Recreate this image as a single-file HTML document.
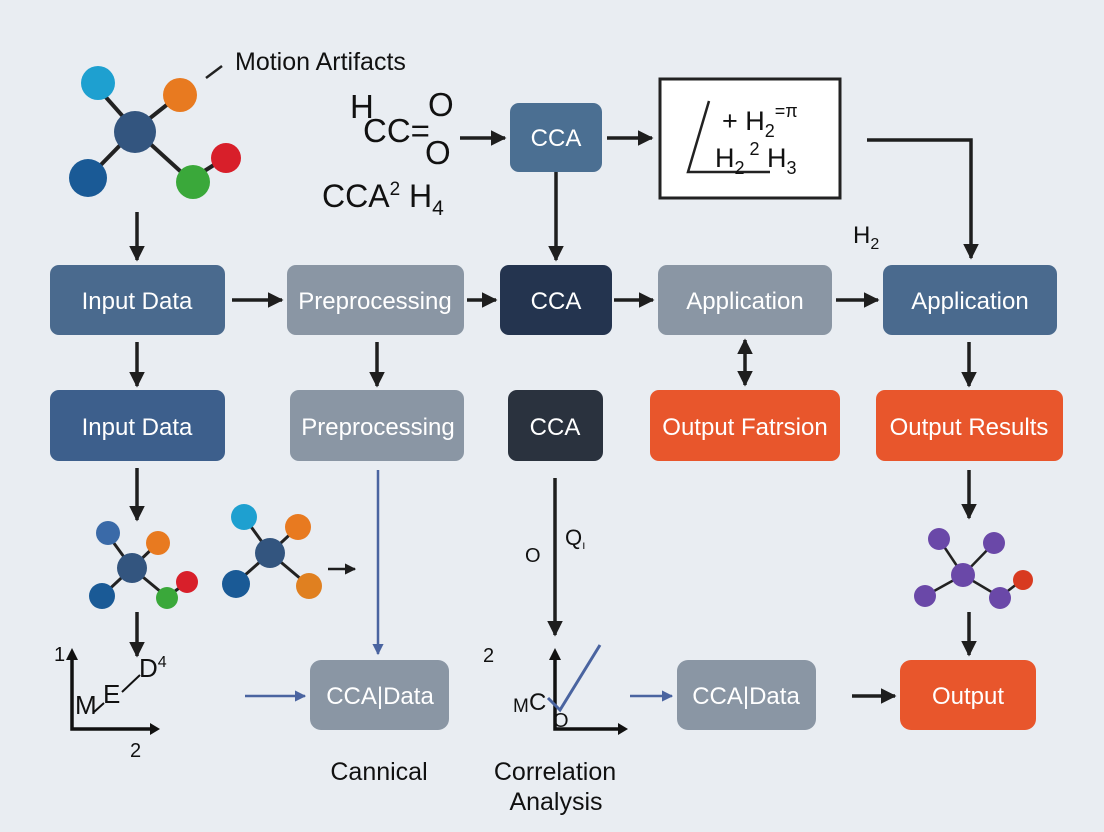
<!DOCTYPE html>
<html><head><meta charset="utf-8"><style>
html,body{margin:0;padding:0;background:#e9edf2;}
svg{display:block;font-family:"Liberation Sans",sans-serif;}
</style></head><body>
<svg width="1104" height="832" viewBox="0 0 1104 832" xmlns="http://www.w3.org/2000/svg">
<defs>
<marker id="a" viewBox="0 0 10 10" refX="9" refY="5" markerWidth="4.5" markerHeight="4.5" orient="auto-start-reverse"><path d="M0,0L10,5L0,10z" fill="#1e1e1e"/></marker>
<marker id="b" viewBox="0 0 10 10" refX="9" refY="5" markerWidth="4.5" markerHeight="4.5" orient="auto"><path d="M0,0L10,5L0,10z" fill="#4a64a0"/></marker>
</defs>
<rect width="1104" height="832" fill="#e9edf2"/>

<g stroke="#222" stroke-width="4">
<line x1="95" y1="85" x2="135" y2="130"/><line x1="178" y1="96" x2="135" y2="130"/>
<line x1="88" y1="178" x2="135" y2="130"/><line x1="190" y1="180" x2="135" y2="130"/><line x1="190" y1="180" x2="225" y2="158"/>
</g>
<circle cx="98" cy="83" r="17" fill="#1ea0d0"/><circle cx="180" cy="95" r="17" fill="#e87a20"/>
<circle cx="135" cy="132" r="21" fill="#33557f"/><circle cx="88" cy="178" r="19" fill="#1a5a96"/>
<circle cx="193" cy="182" r="17" fill="#3aa83a"/><circle cx="226" cy="158" r="15" fill="#d81f2a"/>
<line x1="206" y1="78" x2="222" y2="66" stroke="#222" stroke-width="2.5"/>
<text x="235" y="70" font-size="25" fill="#111">Motion Artifacts</text>

<text x="350" y="118" font-size="33" fill="#111">H</text>
<text x="363" y="142" font-size="33" fill="#111">CC=</text>
<text x="428" y="116" font-size="33" fill="#111">O</text>
<text x="425" y="164" font-size="33" fill="#111">O</text>
<text x="322" y="207" font-size="32" fill="#111">CCA<tspan font-size="19" dy="-12">2</tspan><tspan dy="12"> H</tspan><tspan font-size="21" dy="8">4</tspan></text>
<line x1="460" y1="138" x2="505" y2="138" stroke="#1e1e1e" stroke-width="3.5" marker-end="url(#a)"/>

<rect x="510" y="103" width="92" height="69" rx="9" fill="#4b6f92"/>
<text x="556" y="146" font-size="24" fill="#fff" text-anchor="middle">CCA</text>
<line x1="607" y1="138" x2="652" y2="138" stroke="#1e1e1e" stroke-width="3.5" marker-end="url(#a)"/>
<line x1="556" y1="172" x2="556" y2="260" stroke="#1e1e1e" stroke-width="3.5" marker-end="url(#a)"/>

<rect x="660" y="79" width="180" height="119" fill="#fff" stroke="#222" stroke-width="3"/>
<polyline points="709,101 688,172 770,172" fill="none" stroke="#222" stroke-width="2.5"/>
<text x="722" y="130" font-size="27" fill="#111">+ H<tspan font-size="18" dy="7">2</tspan><tspan font-size="18" dy="-20">=π</tspan></text>
<text x="715" y="167" font-size="27" fill="#111">H<tspan font-size="18" dy="7">2</tspan><tspan font-size="18" dy="-19"> 2</tspan><tspan dy="12"> H</tspan><tspan font-size="18" dy="7">3</tspan></text>

<polyline points="867,140 971,140 971,258" fill="none" stroke="#1e1e1e" stroke-width="3.5" marker-end="url(#a)"/>
<text x="853" y="243" font-size="24" fill="#111">H<tspan font-size="16" dy="6">2</tspan></text>

<rect x="50" y="265" width="175" height="70" rx="9" fill="#4a6a8e"/>
<text x="137" y="309" font-size="24" fill="#fff" text-anchor="middle">Input Data</text>
<rect x="287" y="265" width="177" height="70" rx="9" fill="#8a96a4"/>
<text x="375" y="309" font-size="24" fill="#fff" text-anchor="middle">Preprocessing</text>
<rect x="500" y="265" width="112" height="70" rx="9" fill="#24344f"/>
<text x="556" y="309" font-size="24" fill="#fff" text-anchor="middle">CCA</text>
<rect x="658" y="265" width="174" height="70" rx="9" fill="#8a96a4"/>
<text x="745" y="309" font-size="24" fill="#fff" text-anchor="middle">Application</text>
<rect x="883" y="265" width="174" height="70" rx="9" fill="#4a6a8e"/>
<text x="970" y="309" font-size="24" fill="#fff" text-anchor="middle">Application</text>
<g stroke="#1e1e1e" stroke-width="3.5" marker-end="url(#a)">
<line x1="232" y1="300" x2="282" y2="300"/><line x1="467" y1="300" x2="496" y2="300"/>
<line x1="614" y1="300" x2="653" y2="300"/><line x1="836" y1="300" x2="878" y2="300"/>
<line x1="137" y1="212" x2="137" y2="260"/>
<line x1="137" y1="342" x2="137" y2="386"/><line x1="377" y1="342" x2="377" y2="386"/>
<line x1="969" y1="342" x2="969" y2="386"/>
</g>
<line x1="745" y1="340" x2="745" y2="385" stroke="#1e1e1e" stroke-width="3.5" marker-end="url(#a)" marker-start="url(#a)"/>

<rect x="50" y="390" width="175" height="71" rx="9" fill="#3d5f8c"/>
<text x="137" y="435" font-size="24" fill="#fff" text-anchor="middle">Input Data</text>
<rect x="290" y="390" width="174" height="71" rx="9" fill="#8a96a4"/>
<text x="378" y="435" font-size="24" fill="#fff" text-anchor="middle">Preprocessing</text>
<rect x="508" y="390" width="95" height="71" rx="9" fill="#2a323e"/>
<text x="555" y="435" font-size="24" fill="#fff" text-anchor="middle">CCA</text>
<rect x="650" y="390" width="190" height="71" rx="9" fill="#e8562c"/>
<text x="745" y="435" font-size="24" fill="#fff" text-anchor="middle">Output Fatrsion</text>
<rect x="876" y="390" width="187" height="71" rx="9" fill="#e8562c"/>
<text x="969" y="435" font-size="24" fill="#fff" text-anchor="middle">Output Results</text>

<g stroke="#1e1e1e" stroke-width="3.5" marker-end="url(#a)">
<line x1="137" y1="468" x2="137" y2="520"/><line x1="137" y1="612" x2="137" y2="656"/>
<line x1="555" y1="478" x2="555" y2="635"/>
<line x1="969" y1="470" x2="969" y2="518"/><line x1="969" y1="612" x2="969" y2="655"/>
<line x1="852" y1="696" x2="895" y2="696"/>
</g>
<line x1="328" y1="569" x2="355" y2="569" stroke="#1e1e1e" stroke-width="2.5" marker-end="url(#a)"/>
<g stroke="#4a64a0" stroke-width="2.5" marker-end="url(#b)">
<line x1="378" y1="470" x2="378" y2="654"/>
<line x1="245" y1="696" x2="305" y2="696"/>
<line x1="630" y1="696" x2="672" y2="696"/>
</g>

<g stroke="#222" stroke-width="3">
<line x1="108" y1="535" x2="132" y2="568"/><line x1="158" y1="543" x2="132" y2="568"/>
<line x1="102" y1="596" x2="132" y2="568"/><line x1="167" y1="597" x2="132" y2="568"/><line x1="167" y1="597" x2="186" y2="583"/>
</g>
<circle cx="108" cy="533" r="12" fill="#3a6aa8"/><circle cx="158" cy="543" r="12" fill="#e87a20"/>
<circle cx="132" cy="568" r="15" fill="#33557f"/><circle cx="102" cy="596" r="13" fill="#1a5a96"/>
<circle cx="167" cy="598" r="11" fill="#3aa83a"/><circle cx="187" cy="582" r="11" fill="#d81f2a"/>
<g stroke="#222" stroke-width="3">
<line x1="244" y1="517" x2="270" y2="553"/><line x1="298" y1="527" x2="270" y2="553"/>
<line x1="236" y1="583" x2="270" y2="553"/><line x1="308" y1="585" x2="270" y2="553"/>
</g>
<circle cx="244" cy="517" r="13" fill="#1ea0d0"/><circle cx="298" cy="527" r="13" fill="#e87a20"/>
<circle cx="270" cy="553" r="15" fill="#33557f"/><circle cx="236" cy="584" r="14" fill="#1a5a96"/>
<circle cx="309" cy="586" r="13" fill="#e08020"/>

<polyline points="72,654 72,729 152,729" fill="none" stroke="#111" stroke-width="3.5"/>
<path d="M66,660L72,648L78,660z M150,723L160,729L150,735z" fill="#111"/>
<text x="54" y="661" font-size="20" fill="#111">1</text>
<text x="75" y="714" font-size="26" fill="#111">M</text>
<line x1="94" y1="712" x2="104" y2="703" stroke="#111" stroke-width="2"/>
<text x="103" y="703" font-size="26" fill="#111">E</text>
<line x1="122" y1="692" x2="140" y2="675" stroke="#111" stroke-width="2"/>
<text x="139" y="677" font-size="26" fill="#111">D<tspan font-size="16" dy="-10">4</tspan></text>
<text x="130" y="757" font-size="20" fill="#111">2</text>

<rect x="310" y="660" width="139" height="70" rx="11" fill="#8a96a4"/>
<text x="380" y="704" font-size="24" fill="#fff" text-anchor="middle">CCA|Data</text>
<text x="379" y="780" font-size="25" fill="#111" text-anchor="middle">Cannical</text>
<text x="555" y="780" font-size="25" fill="#111" text-anchor="middle">Correlation</text>
<text x="556" y="810" font-size="25" fill="#111" text-anchor="middle">Analysis</text>

<text x="525" y="562" font-size="20" fill="#111">O</text>
<text x="565" y="545" font-size="22" fill="#111">Q<tspan font-size="12" dy="4">ı</tspan></text>

<polyline points="555,655 555,729 620,729" fill="none" stroke="#111" stroke-width="3.5"/>
<path d="M549,660L555,648L561,660z M618,723L628,729L618,735z" fill="#111"/>
<text x="483" y="662" font-size="20" fill="#111">2</text>
<text x="513" y="712" font-size="19" fill="#111">M</text>
<text x="529" y="710" font-size="24" fill="#111">C</text>
<polyline points="548,698 560,710 600,645" fill="none" stroke="#4a64a0" stroke-width="3"/>
<text x="553" y="727" font-size="20" fill="#111">O</text>

<rect x="677" y="660" width="139" height="70" rx="11" fill="#8a96a4"/>
<text x="746" y="704" font-size="24" fill="#fff" text-anchor="middle">CCA|Data</text>
<rect x="900" y="660" width="136" height="70" rx="11" fill="#e8562c"/>
<text x="968" y="704" font-size="24" fill="#fff" text-anchor="middle">Output</text>

<g stroke="#222" stroke-width="2.5">
<line x1="939" y1="539" x2="963" y2="575"/><line x1="994" y1="543" x2="963" y2="575"/>
<line x1="925" y1="596" x2="963" y2="575"/><line x1="1000" y1="597" x2="963" y2="575"/><line x1="1000" y1="597" x2="1022" y2="580"/>
</g>
<circle cx="939" cy="539" r="11" fill="#6a48a8"/><circle cx="994" cy="543" r="11" fill="#6a48a8"/>
<circle cx="963" cy="575" r="12" fill="#6a48a8"/><circle cx="925" cy="596" r="11" fill="#6a48a8"/>
<circle cx="1000" cy="598" r="11" fill="#6a48a8"/><circle cx="1023" cy="580" r="10" fill="#d83a20"/>
</svg>
</body></html>
